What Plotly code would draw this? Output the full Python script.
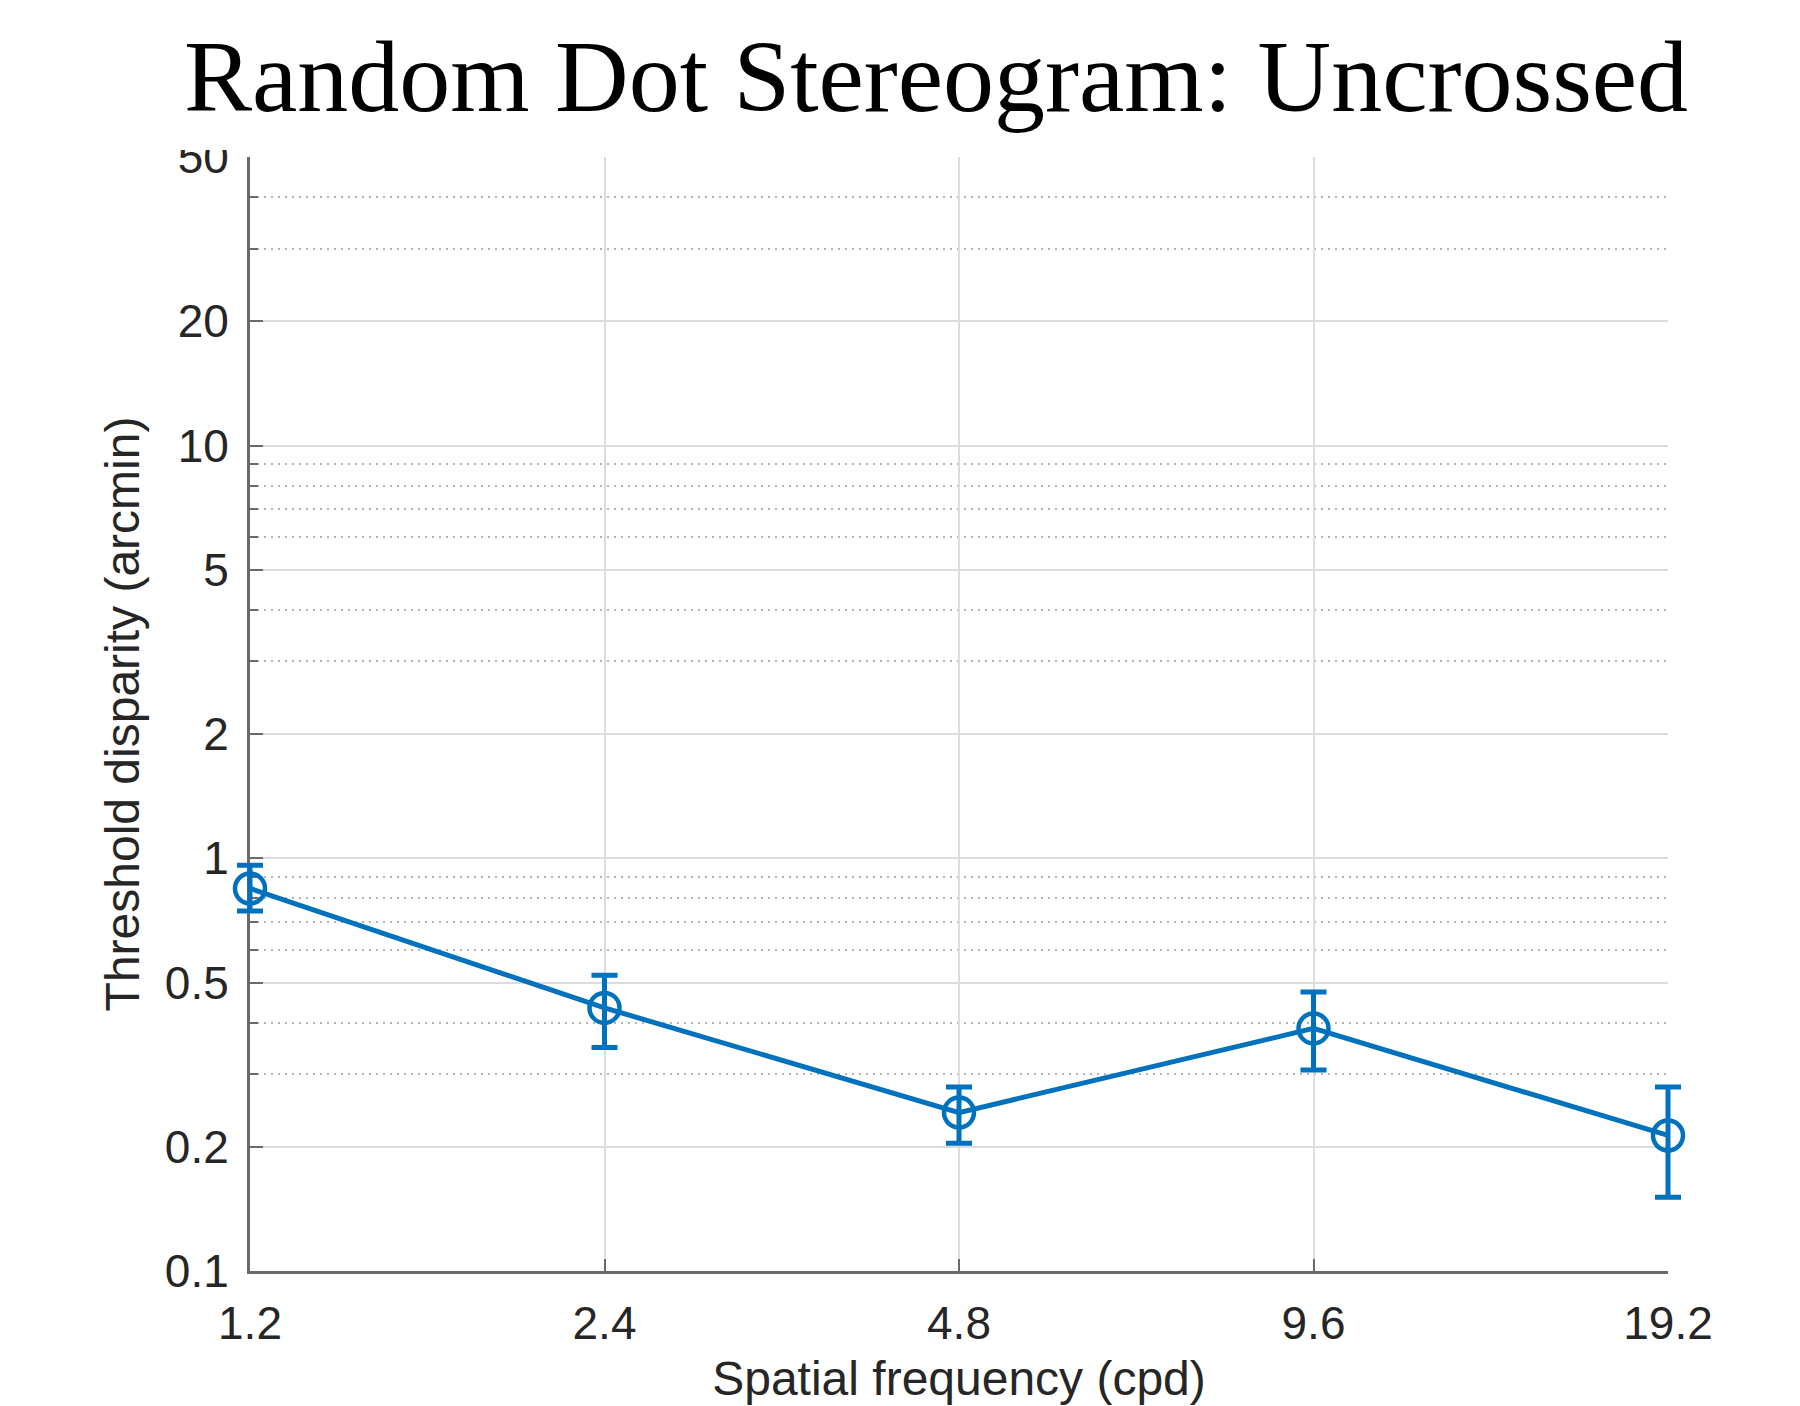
import plotly.graph_objects as go
import math

# ---- data ----
freq = [1.2, 2.4, 4.8, 9.6, 19.2]
threshold = [0.845, 0.434, 0.242, 0.387, 0.213]
err_upper = [0.962, 0.521, 0.279, 0.474, 0.279]
err_lower = [0.745, 0.348, 0.204, 0.307, 0.151]

x_tickvals = [1.2, 2.4, 4.8, 9.6, 19.2]
x_ticktext = ["1.2", "2.4", "4.8", "9.6", "19.2"]
y_tickvals = [0.1, 0.2, 0.5, 1, 2, 5, 10, 20, 50]
y_ticktext = ["0.1", "0.2", "0.5", "1", "2", "5", "10", "20", "50"]
y_minorvals = [0.3, 0.4, 0.6, 0.7, 0.8, 0.9, 3, 4, 6, 7, 8, 9, 30, 40]

title_text = "Random Dot Stereogram: Uncrossed"
x_title = "Spatial frequency (cpd)"
y_title = "Threshold disparity (arcmin)"

BLUE = "#0072BD"
AXIS = "#6a6a6a"
TXT = "#262626"

plus = [u - v for u, v in zip(err_upper, threshold)]
minus = [v - l for v, l in zip(threshold, err_lower)]

# ---- geometry (figure px) ----
W, H = 1800, 1406
PAD = 30                      # extra room so edge markers / error bars are not clipped
AX_L, AX_R, AX_T, AX_B = 242, 1660, 149, 1263   # visible axes box
PL, PR, PT, PB = AX_L - PAD, AX_R + PAD, AX_T - PAD, AX_B + PAD
pw, ph = PR - PL, PB - PT

x0, x1 = math.log10(min(x_tickvals)), math.log10(max(x_tickvals))
y0, y1 = math.log10(min(y_tickvals)), math.log10(max(y_tickvals))
sx = (x1 - x0) / (AX_R - AX_L)
sy = (y1 - y0) / (AX_B - AX_T)

fig = go.Figure()
# empty trace so the visible (grid / tick) axes x, y are created
fig.add_trace(go.Scatter(x=[], y=[], xaxis="x", yaxis="y", mode="markers",
                         showlegend=False, hoverinfo="skip"))
# data, drawn on an invisible, slightly larger overlay subplot so edge points are not clipped
fig.add_trace(go.Scatter(
    x=freq, y=threshold, mode="lines+markers", xaxis="x2", yaxis="y2",
    line=dict(color=BLUE, width=5),
    marker=dict(symbol="circle-open", size=30, color=BLUE, line=dict(color=BLUE, width=4.5)),
    error_y=dict(type="data", array=plus, arrayminus=minus, color=BLUE, thickness=5, width=13),
    showlegend=False,
))

fig.update_layout(
    width=W, height=H,
    margin=dict(l=PL, r=W - PR, t=PT, b=H - PB, autoexpand=False),
    paper_bgcolor="white", plot_bgcolor="rgba(0,0,0,0)",
    title=dict(text=title_text, x=928 / W, xanchor="center", xref="container",
               y=1 - 67 / H, yanchor="middle", yref="container",
               font=dict(family="Liberation Serif", size=102, color="black")),
    font=dict(family="Liberation Sans, Arial", color=TXT),
    xaxis2=dict(type="log", domain=[0, 1], anchor="y2", visible=False,
                range=[x0 - PAD * sx, x1 + PAD * sx]),
    yaxis2=dict(type="log", domain=[0, 1], anchor="x2", visible=False,
                range=[y0 - PAD * sy, y1 + PAD * sy]),
    xaxis=dict(
        type="log", range=[x0, x1], domain=[PAD / pw, 1 - PAD / pw], anchor="y",
        tickmode="array", tickvals=x_tickvals, ticktext=x_ticktext,
        ticks="inside", ticklen=12, tickwidth=2, tickcolor=AXIS,
        showline=True, linecolor=AXIS, linewidth=3,
        showgrid=True, gridcolor="#dcdcdc", gridwidth=1.5,
        tickfont=dict(size=46, color=TXT), ticklabelstandoff=10,
        title=dict(text=x_title, font=dict(size=48, color=TXT), standoff=14),
        zeroline=False, automargin=False,
    ),
    yaxis=dict(
        type="log", range=[y0, y1], domain=[PAD / ph, 1 - PAD / ph], anchor="x",
        tickmode="array", tickvals=y_tickvals, ticktext=y_ticktext,
        ticks="inside", ticklen=13, tickwidth=2, tickcolor=AXIS,
        showline=True, linecolor=AXIS, linewidth=3,
        showgrid=True, gridcolor="#dcdcdc", gridwidth=1.5,
        minor=dict(tickmode="array", tickvals=y_minorvals, ticks="inside", ticklen=8,
                   tickwidth=2, tickcolor=AXIS, showgrid=True, gridcolor="#b4b4b4",
                   gridwidth=1.5, griddash="2px,5px"),
        tickfont=dict(size=46, color=TXT), ticklabelstandoff=9,
        title=dict(text=y_title, font=dict(size=48, color=TXT), standoff=11),
        zeroline=False, automargin=False,
    ),
)

# the reference has the top of the "50" label cut off
fig.add_shape(type="rect", xref="paper", yref="paper",
              x0=-0.25, x1=(AX_L - 4 - PL) / pw, y0=(PB - (AX_T - 7)) / ph, y1=1.3,
              fillcolor="white", line=dict(width=0), layer="above")

fig.write_html("out.html")
